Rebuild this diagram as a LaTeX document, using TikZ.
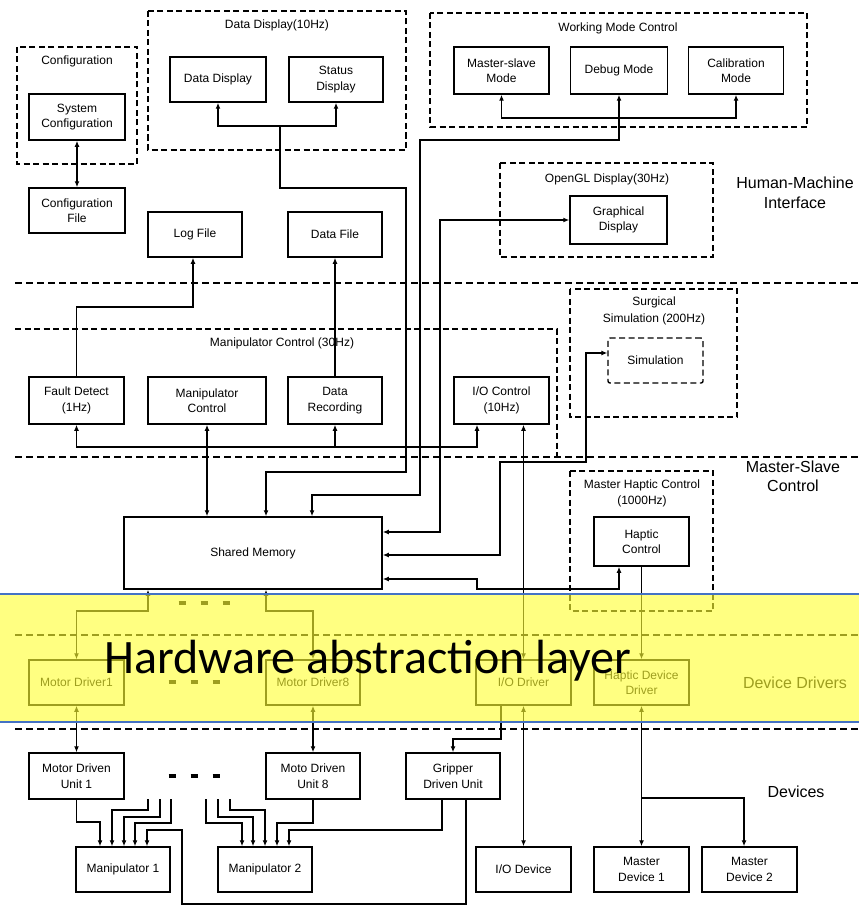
\documentclass[tikz,border=0pt]{standalone}
\usepackage{fontspec}
\setmainfont{Liberation Sans}
\newfontfamily\calibfont{Carlito}
\usetikzlibrary{arrows.meta}
\definecolor{bandyellow}{HTML}{FFFF33}
\definecolor{bandblue}{HTML}{4472C4}
\begin{document}
\begin{tikzpicture}[x=1pt,y=-1pt,
  line width=1.5pt,
  >={Latex[length=6pt,width=5pt]},
  blk/.style 2 args={draw, line width=1.5pt, minimum width=#1pt, minimum height=#2pt,
    inner sep=0pt, align=center, font=\fontsize{12}{15.5}\selectfont},
  ttl/.style={inner sep=0pt, align=center, font=\fontsize{12}{16.5}\selectfont},
  region/.style={inner sep=0pt, align=center, font=\fontsize{16}{19.5}\selectfont},
  grp/.style={draw, line width=1.4pt, dash pattern=on 6pt off 3.5pt},
  sep/.style={line width=1.4pt, dash pattern=on 7pt off 4pt},
  gap/.style={line width=3.5pt},
]
\useasboundingbox (0,0) rectangle (859,915);

% ---------- layer separators ----------
\draw[sep] (15,283) -- (859,283);
\draw[sep] (15,457) -- (859,457);
\draw[sep] (15,635) -- (859,635);
\draw[sep] (15,729) -- (859,729);

% ---------- group frames ----------
\draw[grp] (17,47) rectangle (137,164);
\draw[grp] (148,11) rectangle (406,150);
\draw[grp] (430,13) rectangle (807,127);
\draw[grp] (500,163) rectangle (713,257);
\draw[grp] (570,289) rectangle (737,417);
\draw[grp] (570,471) rectangle (713,611);
\draw[grp] (15,329) -- (557,329) -- (557,457);

\node[ttl] (tcfg) at (77,61) {Configuration};
\node[ttl] (tdd) at (277,25) {Data Display(10Hz)};
\node[ttl] (twm) at (618,28) {Working Mode Control};
\node[ttl] (togl) at (607,179) {OpenGL Display(30Hz)};
\node[ttl] (tmc) at (282,343) {Manipulator Control (30Hz)};
\node[ttl] (tss) at (654,311) {Surgical\\Simulation (200Hz)};
\node[ttl] (tmh) at (642,493.5) {Master Haptic Control\\(1000Hz)};

% ---------- layer names ----------
\node[region] (lhmi) at (795,193) {Human-Machine\\Interface};
\node[region] (lms) at (793,476.5) {Master-Slave\\Control};
\node[region] (ldd) at (795,683) {Device Drivers};
\node[region] (ldev) at (796,792) {Devices};

% ---------- blocks ----------
\node[blk={96}{46}] (cfgsys) at (77,117) {System\\Configuration};
\node[blk={96}{45}] (cfgfile) at (77,210.5) {Configuration\\File};
\node[blk={96}{45}] (datadisp) at (218,79.5) {Data Display};
\node[blk={94}{45}] (statdisp) at (336,79.5) {Status\\Display};
\node[blk={94}{45}] (logfile) at (195,234.5) {Log File};
\node[blk={94}{45}] (datafile) at (335,234.5) {Data File};
\node[blk={95}{47}] (msmode) at (501.5,70.5) {Master-slave\\Mode};
\node[blk={97}{47}] (dbgmode) at (619,70.5) {Debug Mode};
\node[blk={95}{47}] (calmode) at (736,70.5) {Calibration\\Mode};
\node[blk={97}{48}] (graph) at (618.5,220) {Graphical\\Display};
\node[blk={95}{47}] (fault) at (76.5,400.5) {Fault Detect\\(1Hz)};
\node[blk={118}{47}] (manctl) at (207,400.5) {Manipulator\\Control};
\node[blk={94}{47}] (datarec) at (335,400.5) {Data\\Recording};
\node[blk={95}{47}] (ioctl) at (501.5,400.5) {I/O Control\\(10Hz)};
\node[blk={95}{45}, grp, rounded corners=2pt] (sim) at (655.5,360.5) {Simulation};
\node[blk={258}{72}] (shm) at (253,553) {Shared Memory};
\node[blk={95}{49}] (haptic) at (641.5,541.5) {Haptic\\Control};
\node[blk={95}{45}] (md1) at (76.5,682.5) {Motor Driver1};
\node[blk={94}{45}] (md8) at (313,682.5) {Motor Driver8};
\node[blk={95}{45}] (iodrv) at (523.5,682.5) {I/O Driver};
\node[blk={95}{45}] (hapdrv) at (641.5,682.5) {Haptic Device\\Driver};
\node[blk={95}{46}] (mdu1) at (76.5,776) {Motor Driven\\Unit 1};
\node[blk={94}{46}] (mdu8) at (313,776) {Moto Driven\\Unit 8};
\node[blk={94}{46}] (grip) at (453,776) {Gripper\\Driven Unit};
\node[blk={94}{45}] (man1) at (123,869.5) {Manipulator 1};
\node[blk={94}{45}] (man2) at (265,869.5) {Manipulator 2};
\node[blk={95}{45}] (iodev) at (523.5,869.5) {I/O Device};
\node[blk={95}{45}] (mdev1) at (641.5,869.5) {Master\\Device 1};
\node[blk={95}{45}] (mdev2) at (749.5,869.5) {Master\\Device 2};

% ---------- human-machine interface links ----------
\draw[<->] (cfgsys) -- (cfgfile);
\coordinate (ddj) at (280,126);
\draw[->] (ddj) -| (datadisp.south);
\draw[->] (ddj) -| (statdisp.south);
\draw[->] (ddj) |- (406,188) |- (266,472) -- (266,472 |- shm.north);
\coordinate (wmj) at (619,118);
\draw[->] (wmj) -| (msmode.south);
\draw[->] (wmj) -| (calmode.south);
\draw[<->] (dbgmode.south) |- (420,140) |- (312,495) -- (312,495 |- shm.north);
\draw[<->] (shm.east |- 0,532) -| (440,220) -- (graph.west);
\draw[->] (fault.north) |- (193,307) -- (193,307 |- logfile.south);
\draw[->] (datarec.north) -- (datafile.south);

% ---------- master-slave control links ----------
\draw[<->] (manctl.south) -- (manctl.south |- shm.north);
\draw[<->] (fault.south) |- (477,447) -- (477,447 |- ioctl.south);
\draw[->] (datarec.south |- 0,447) -- (datarec.south);
\draw[<->] (shm.east |- 0,555) -| (500,462) -| (586,353) -- (sim.west |- 0,353);
\draw[<->] (shm.east |- 0,579) -| (477,589) -| (619,589 |- haptic.south);
\draw[->] (haptic.south) -- (hapdrv.north);
\draw[<->] (ioctl.south -| iodrv.north) -- (iodrv.north);

% ---------- driver links ----------
\draw[<->] (shm.south -| 148,0) |- (md1.north |- 0,611) -- (md1.north);
\draw[<->] (shm.south -| 266,0) |- (md8.north |- 0,611) -- (md8.north);
\draw[<->] (md1.south) -- (mdu1.north);
\draw[<->] (md8.south) -- (mdu8.north);
\draw[<->] (iodrv.south) -- (iodev.north);
\draw[->] (iodrv.south -| 501,0) |- (grip.north |- 0,739) -- (grip.north);
\draw[<->] (hapdrv.south) -- (mdev1.north);
\draw[->] (hapdrv.south |- 0,798) -| (mdev2.north -| 744,0);

% ---------- actuator links ----------
\coordinate (u1a) at (148,799);
\coordinate (u1b) at (160,799);
\coordinate (u1c) at (171,799);
\coordinate (u8a) at (206,799);
\coordinate (u8b) at (218,799);
\coordinate (u8c) at (230,799);
\draw[->] (mdu1.south) |- (100,822) -- (100,822 |- man1.north);
\draw[->] (u1a) |- (112,810) -- (112,810 |- man1.north);
\draw[->] (u1b) |- (124,817) -- (124,817 |- man1.north);
\draw[->] (u1c) |- (135,823) -- (135,823 |- man1.north);
\draw[->] (grip.south -| 466,0) |- (182,904) |- (147,830) -- (147,830 |- man1.north);
\draw[->] (u8a) |- (242,823) -- (242,823 |- man2.north);
\draw[->] (u8b) |- (253,817) -- (253,817 |- man2.north);
\draw[->] (u8c) |- (265,810) -- (265,810 |- man2.north);
\draw[->] (mdu8.south) |- (277,823) -- (277,823 |- man2.north);
\draw[->] (grip.south -| 442,0) |- (289,830) -- (289,830 |- man2.north);

% ---------- ellipsis marks ----------
\foreach \x in {172,194,216} {
  \draw[gap] (\x-3.5,776) -- (\x+3.5,776);
  \draw[gap] (\x-3.5,682) -- (\x+3.5,682);
}
\foreach \x in {182,204,226} {
  \draw[gap] (\x-3.5,603) -- (\x+3.5,603);
}

% ---------- highlighted abstraction band ----------
\fill[bandyellow, opacity=0.62] (0,594) rectangle (859,722);
\draw[bandblue, line width=1.2pt] (0,594) -- (859,594);
\draw[bandblue, line width=1.2pt] (0,722) -- (859,722);
\node[anchor=base west, inner sep=0pt, font=\calibfont\fontsize{48}{52}\selectfont] (hal) at (104,673) {Hardware abstraction layer};
\end{tikzpicture}
\end{document}
